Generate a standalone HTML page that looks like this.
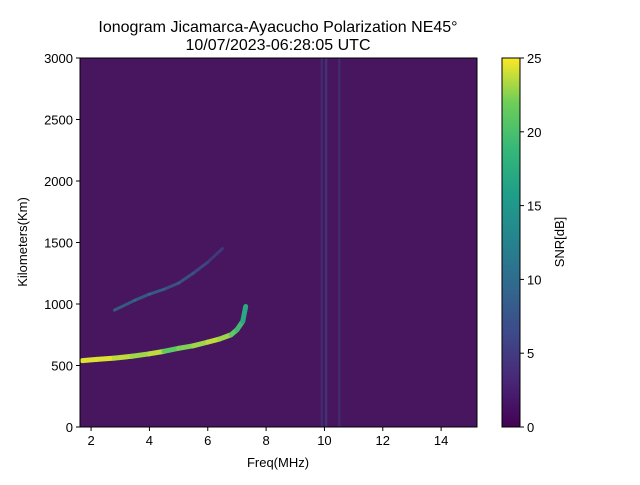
<!DOCTYPE html>
<html><head><meta charset="utf-8"><style>
body{margin:0;background:#fff;width:640px;height:480px;overflow:hidden;font-family:"Liberation Sans",sans-serif}
svg text{font-family:"Liberation Sans","DejaVu Sans",sans-serif;fill:#000}
</style></head><body>
<svg id="chart" width="640" height="480" viewBox="0 0 640 480" xmlns="http://www.w3.org/2000/svg">
<defs>
<linearGradient id="viridis" x1="0" y1="1" x2="0" y2="0">
<stop offset="0" stop-color="#440154"/><stop offset="0.13" stop-color="#482878"/><stop offset="0.25" stop-color="#3e4989"/><stop offset="0.38" stop-color="#31688e"/><stop offset="0.5" stop-color="#26828e"/><stop offset="0.63" stop-color="#1f9e89"/><stop offset="0.75" stop-color="#35b779"/><stop offset="0.88" stop-color="#6ece58"/><stop offset="1" stop-color="#fde725"/>
</linearGradient>
<clipPath id="plotclip"><rect x="80" y="58" width="397" height="369"/></clipPath>
</defs>
<text x="278" y="32" font-size="16" text-anchor="middle">Ionogram Jicamarca-Ayacucho Polarization NE45°</text>
<text x="278" y="50" font-size="16" text-anchor="middle">10/07/2023-06:28:05 UTC</text>
<rect x="80" y="58" width="397" height="369" fill="#47165f"/>
<g id="marks" clip-path="url(#plotclip)"></g>
<rect x="80" y="58" width="397" height="369" fill="none" stroke="#000" stroke-width="1"/>
<g id="xticks"></g><g id="yticks"></g>
<text x="278" y="467" font-size="13" text-anchor="middle">Freq(MHz)</text>
<text transform="translate(27,242) rotate(-90)" font-size="13" text-anchor="middle">Kilometers(Km)</text>
<rect x="502" y="58" width="18" height="369" fill="url(#viridis)" stroke="#000" stroke-width="1"/>
<g id="cticks"></g>
<text transform="translate(564,242) rotate(-90)" font-size="13" text-anchor="middle">SNR[dB]</text>
</svg>
<script>
const xTicks=[2,4,6,8,10,12,14];
const yTicks=[0,500,1000,1500,2000,2500,3000];
const cTicks=[0,5,10,15,20,25];
// main O-trace
const traceFreq=[1.7,2.2,2.8,3.4,4.0,4.5,5.0,5.5,6.0,6.4,6.8,7.0,7.2,7.3];
const traceHeight=[540,550,560,575,595,615,640,660,690,715,750,790,860,980];
const traceSnr=[24,24,23,22,23,20,21,22,23,22,20,18,16,14];
// second hop
const hopFreq=[2.8,3.5,4.0,4.5,5.0,5.5,6.0,6.5];
const hopHeight=[950,1030,1080,1120,1170,1250,1340,1450];
const hopSnr=[7,7,7,6,6,5,4,3];
// vertical interference lines
const vlineFreq=[9.9,10.05,10.5];
const vlineSnr=[4,5,4];
const xMin=1.62,xMax=15.23,yMin=0,yMax=3000;
const X=f=>80+(f-xMin)/(xMax-xMin)*397;
const Y=h=>427-(h-yMin)/(yMax-yMin)*369;
const C=v=>{const s=[[0,[68,1,84]],[5,[59,82,139]],[10,[33,145,140]],[15,[30,158,137]],[20,[94,201,98]],[25,[253,231,37]]];v=Math.max(0,Math.min(25,v));for(let i=1;i<s.length;i++){if(v<=s[i][0]){const t=(v-s[i-1][0])/(s[i][0]-s[i-1][0]);const a=s[i-1][1],b=s[i][1];return `rgb(${a.map((c,k)=>Math.round(c+(b[k]-c)*t)).join(',')})`;}}return 'rgb(253,231,37)';};
const NS='http://www.w3.org/2000/svg';
const mk=(t,a,p)=>{const e=document.createElementNS(NS,t);for(const k in a)e.setAttribute(k,a[k]);p.appendChild(e);return e;};
const marks=document.getElementById('marks');
vlineFreq.forEach((f,i)=>{
 const r=mk('rect',{x:X(f)-1,y:58,width:2.5,height:369,fill:C(vlineSnr[i]),opacity:0.45},marks);
 
 
});
function drawTrace(fs,hs,ss,name,w,op){
 for(let i=0;i<fs.length-1;i++){
  const p=mk('line',{x1:X(fs[i]),y1:Y(hs[i]),x2:X(fs[i+1]),y2:Y(hs[i+1]),stroke:C(ss[i]),'stroke-width':w,'stroke-linecap':'round',opacity:op},marks);
  
  
 }
}
drawTrace(hopFreq,hopHeight,hopSnr,'second-hop-segment',3,0.8);
drawTrace(traceFreq,traceHeight,traceSnr,'trace-segment',5,1);
const xt=document.getElementById('xticks');
xTicks.forEach(v=>{
 const l=mk('line',{x1:X(v),x2:X(v),y1:427,y2:431,stroke:'#000'},xt);
 
 
 const t=mk('text',{x:X(v),y:445,'font-size':13,'text-anchor':'middle'},xt);t.textContent=v;
 
 
});
const yt=document.getElementById('yticks');
yTicks.forEach(v=>{
 const l=mk('line',{x1:76,x2:80,y1:Y(v),y2:Y(v),stroke:'#000'},yt);
 
 
 const t=mk('text',{x:73,y:Y(v)+5,'font-size':13,'text-anchor':'end'},yt);t.textContent=v;
 
 
});
const ct=document.getElementById('cticks');
cTicks.forEach(v=>{
 const y=427-v/25*369;
 const l=mk('line',{x1:520,x2:524,y1:y,y2:y,stroke:'#000'},ct);
 
 
 const t=mk('text',{x:527,y:y+5,'font-size':13},ct);t.textContent=v;
 
 
});
</script>
</body></html>
